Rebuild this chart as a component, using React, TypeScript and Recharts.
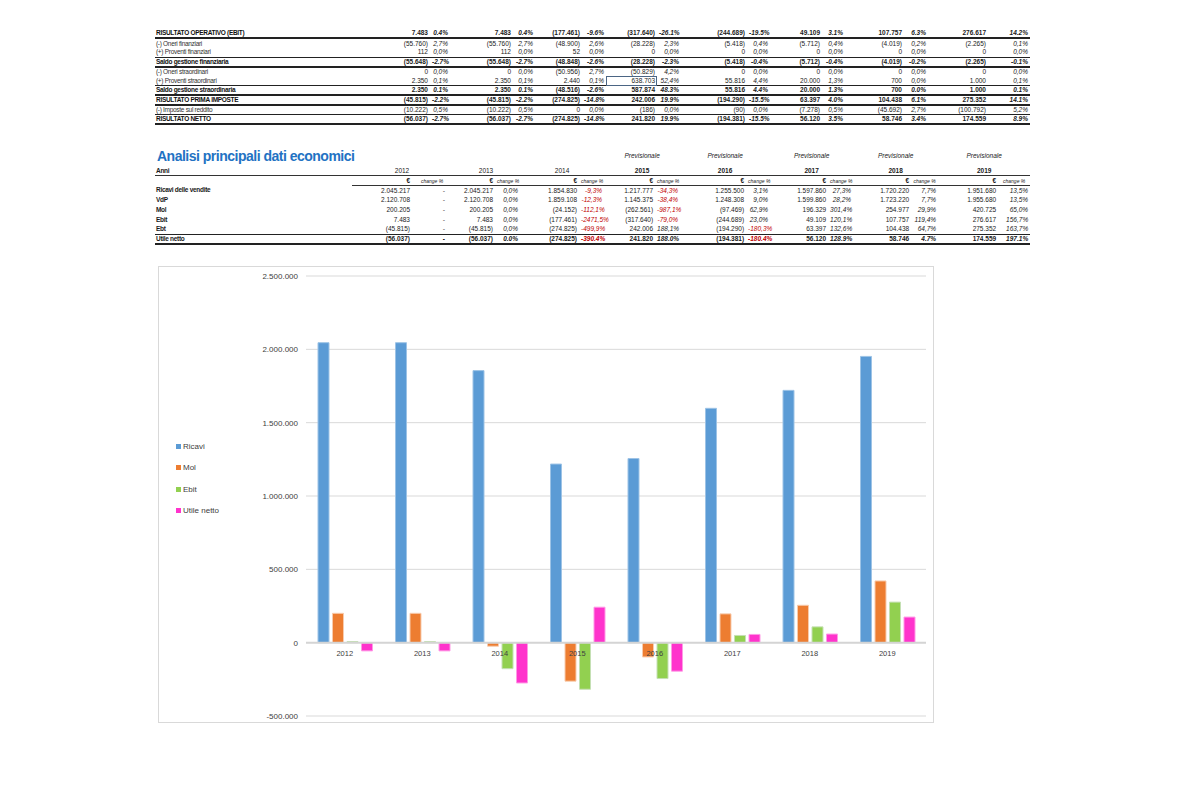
import React from 'react';
import { BarChart, Bar, XAxis, YAxis, CartesianGrid, Legend, ReferenceLine } from 'recharts';

// anni
const years = ['2012', '2013', '2014', '2015', '2016', '2017', '2018', '2019'];

// dati economici (€)
const ricavi = [2045217, 2045217, 1854830, 1217777, 1255500, 1597860, 1720220, 1951680];
const vdp = [2120708, 2120708, 1859108, 1145375, 1248308, 1599860, 1723220, 1955680];
const mol = [200205, 200205, -24152, -262561, -97469, 196329, 254977, 420725];
const ebit = [7483, 7483, -177461, -317640, -244689, 49109, 107757, 276617];
const ebt = [-45815, -45815, -274825, 242006, -194290, 63397, 104438, 275352];
const utileNetto = [-56037, -56037, -274825, 241820, -194381, 56120, 58746, 174559];

const oneriFin = [-55760, -55760, -48900, -28228, -5418, -5712, -4019, -2265];
const proventiFin = [112, 112, 52, 0, 0, 0, 0, 0];
const saldoFin = [-55648, -55648, -48848, -28228, -5418, -5712, -4019, -2265];
const oneriStraord = [0, 0, -50956, -50829, 0, 0, 0, 0];
const proventiStraord = [2350, 2350, 2440, 638703, 55816, 20000, 700, 1000];
const saldoStraord = [2350, 2350, -48516, 587874, 55816, 20000, 700, 1000];
const imposte = [-10222, -10222, 0, -186, -90, -7278, -45692, -100792];

// incidenze % (conto economico)
const ebitPct = ['0.4%', '0.4%', '-9.6%', '-26.1%', '-19.5%', '3.1%', '6.3%', '14.2%'];
const oneriFinPct = ['2,7%', '2,7%', '2,6%', '2,3%', '0,4%', '0,4%', '0,2%', '0,1%'];
const proventiFinPct = ['0,0%', '0,0%', '0,0%', '0,0%', '0,0%', '0,0%', '0,0%', '0,0%'];
const saldoFinPct = ['-2.7%', '-2.7%', '-2.6%', '-2.3%', '-0.4%', '-0.4%', '-0.2%', '-0.1%'];
const oneriStraordPct = ['0,0%', '0,0%', '2,7%', '4,2%', '0,0%', '0,0%', '0,0%', '0,0%'];
const proventiStraordPct = ['0,1%', '0,1%', '0,1%', '52,4%', '4,4%', '1,3%', '0,0%', '0,1%'];
const saldoStraordPct = ['0.1%', '0.1%', '-2.6%', '48.3%', '4.4%', '1.3%', '0.0%', '0.1%'];
const primaImpostePct = ['-2.2%', '-2.2%', '-14.8%', '19.9%', '-15.5%', '4.0%', '6.1%', '14.1%'];
const impostePct = ['0,5%', '0,5%', '0,0%', '0,0%', '0,0%', '0,5%', '2,7%', '5,2%'];
const nettoPct = ['-2.7%', '-2.7%', '-14.8%', '19.9%', '-15.5%', '3.5%', '3.4%', '8.9%'];

// variazioni % anno su anno
const ricaviChange = ['-', '0,0%', '-9,3%', '-34,3%', '3,1%', '27,3%', '7,7%', '13,5%'];
const vdpChange = ['-', '0,0%', '-12,3%', '-38,4%', '9,0%', '28,2%', '7,7%', '13,5%'];
const molChange = ['-', '0,0%', '-112,1%', '-987,1%', '62,9%', '301,4%', '29,9%', '65,0%'];
const ebitChange = ['-', '0,0%', '-2471,5%', '-79,0%', '23,0%', '120,1%', '119,4%', '156,7%'];
const ebtChange = ['-', '0,0%', '-499,9%', '188,1%', '-180,3%', '132,6%', '64,7%', '163,7%'];
const utileChange = ['-', '0.0%', '-390.4%', '188.0%', '-180.4%', '128.9%', '4.7%', '197.1%'];

const forecast = [false, false, false, true, true, true, true, true];
const seriesNames = ['Ricavi', 'Mol', 'Ebit', 'Utile netto'];

const TABLE_FONT = '"Liberation Sans", Arial, sans-serif';
const CHART_FONT = '"Liberation Sans", Arial, sans-serif';
const LABEL_LIFT = 73;

const fmt = (n: number) => {
  const s = Math.abs(n).toString().replace(/\B(?=(\d{3})+(?!\d))/g, '.');
  return n < 0 ? `(${s})` : s;
};
const axisFmt = (n: number) => (n < 0 ? '-' : '') + Math.abs(n).toString().replace(/\B(?=(\d{3})+(?!\d))/g, '.');

type Row = { label: string; values: number[]; pct: string[]; bold?: boolean; lineTop?: boolean; thick?: boolean };

const topRows: Row[] = [
  { label: 'RISULTATO OPERATIVO (EBIT)', values: ebit, pct: ebitPct, bold: true, thick: true },
  { label: '(-) Oneri finanziari', values: oneriFin, pct: oneriFinPct },
  { label: '(+) Proventi finanziari', values: proventiFin, pct: proventiFinPct },
  { label: 'Saldo gestione finanziaria', values: saldoFin, pct: saldoFinPct, bold: true, lineTop: true, thick: true },
  { label: '(-) Oneri straordinari', values: oneriStraord, pct: oneriStraordPct },
  { label: '(+) Proventi straordinari', values: proventiStraord, pct: proventiStraordPct },
  { label: 'Saldo gestione straordinaria', values: saldoStraord, pct: saldoStraordPct, bold: true, lineTop: true, thick: true },
  { label: 'RISULTATO PRIMA IMPOSTE', values: ebt, pct: primaImpostePct, bold: true, lineTop: true, thick: true },
  { label: '(-) Imposte sul reddito', values: imposte, pct: impostePct },
  { label: 'RISULTATO NETTO', values: utileNetto, pct: nettoPct, bold: true, lineTop: true, thick: true },
];

const bottomRows: Row[] = [
  { label: 'Ricavi delle vendite', values: ricavi, pct: ricaviChange },
  { label: 'VdP', values: vdp, pct: vdpChange },
  { label: 'Mol', values: mol, pct: molChange },
  { label: 'Ebit', values: ebit, pct: ebitChange },
  { label: 'Ebt', values: ebt, pct: ebtChange },
  { label: 'Utile netto', values: utileNetto, pct: utileChange, bold: true, lineTop: true, thick: true },
];

const topCols = [217, 58, 20, 63, 22, 47, 24, 51, 24, 66, 23, 52, 23, 59, 24, 60, 42];
const bottomCols = [197, 60, 40, 43, 25, 59, 25, 51, 25, 66, 24, 58, 25, 58, 27, 60, 32];

const cell: React.CSSProperties = {
  padding: '0 2px',
  whiteSpace: 'nowrap',
  overflow: 'visible',
  textAlign: 'right',
  lineHeight: '8px',
};

const labelCell: React.CSSProperties = {
  ...cell,
  textAlign: 'left',
  paddingLeft: 1,
  letterSpacing: -0.3,
};

const rowBorders = (r: Row) => ({
  borderTop: r.lineTop ? '1px solid #222' : undefined,
  borderBottom: r.thick ? '2px solid #222' : undefined,
});

const TopTable = () => (
  <table
    style={{
      position: 'absolute', left: 155, top: 29, width: 875, tableLayout: 'fixed',
      borderCollapse: 'collapse', fontFamily: TABLE_FONT, fontSize: 6.5, color: '#1a1a1a',
    }}
  >
    <colgroup>{topCols.map((w, i) => <col key={i} style={{ width: w }} />)}</colgroup>
    <tbody>
      {topRows.map((r, i) => (
        <tr key={i} style={{ height: 9.45, fontWeight: r.bold ? 700 : 400 }}>
          <td style={{ ...labelCell, ...rowBorders(r), color: r.bold ? '#111' : '#333' }}>{r.label}</td>
          {r.values.map((v, j) => [
            <td
              key={`v${j}`}
              style={{
                ...cell, ...rowBorders(r),
                ...(i === 5 && j === 3 ? { outline: '1px solid #4b6584', outlineOffset: -1 } : {}),
              }}
            >
              {fmt(v)}
            </td>,
            <td key={`p${j}`} style={{ ...cell, ...rowBorders(r), fontStyle: 'italic' }}>{r.pct[j]}</td>,
          ])}
        </tr>
      ))}
    </tbody>
  </table>
);

const BottomTable = () => (
  <table
    style={{
      position: 'absolute', left: 155, top: 146, width: 875, tableLayout: 'fixed',
      borderCollapse: 'collapse', fontFamily: TABLE_FONT, fontSize: 6.5, color: '#1a1a1a',
    }}
  >
    <colgroup>{bottomCols.map((w, i) => <col key={i} style={{ width: w }} />)}</colgroup>
    <tbody>
      <tr style={{ height: 20 }}>
        <td
          colSpan={7}
          style={{
            ...cell, textAlign: 'left', paddingLeft: 2, fontSize: 14, lineHeight: '16px',
            letterSpacing: -0.5, fontWeight: 700, color: '#2272c3',
          }}
        >
          Analisi principali dati economici
        </td>
        {years.slice(3).map((y) => (
          <td key={y} colSpan={2} style={{ ...cell, textAlign: 'center', fontStyle: 'italic', color: '#222' }}>Previsionale</td>
        ))}
      </tr>
      <tr style={{ height: 9.8 }}>
        <td style={{ ...labelCell, fontWeight: 700, borderBottom: '1.5px solid #333' }}>Anni</td>
        {years.map((y, j) => (
          <td key={y} colSpan={2} style={{ ...cell, textAlign: 'center', fontWeight: forecast[j] ? 700 : 400, borderBottom: '1.5px solid #333' }}>{y}</td>
        ))}
      </tr>
      <tr style={{ height: 9.8 }}>
        <td style={cell} />
        {years.map((y) => [
          <td key={`e${y}`} style={{ ...cell, fontWeight: 700, borderBottom: '1px solid #333' }}>€</td>,
          <td key={`c${y}`} style={{ ...cell, textAlign: 'center', fontStyle: 'italic', fontSize: 5, borderBottom: '1px solid #333' }}>change %</td>,
        ])}
      </tr>
      {bottomRows.map((r, i) => (
        <tr key={i} style={{ height: 9.8, fontWeight: r.bold ? 700 : 400 }}>
          <td style={{ ...labelCell, ...rowBorders(r), fontWeight: 700 }}>{r.label}</td>
          {r.values.map((v, j) => {
            const p = r.pct[j];
            const neg = p.startsWith('-') && p.length > 1;
            return [
              <td key={`v${j}`} style={{ ...cell, ...rowBorders(r) }}>{fmt(v)}</td>,
              <td
                key={`p${j}`}
                style={{
                  ...cell, ...rowBorders(r), fontStyle: 'italic',
                  color: neg ? '#c00000' : '#1a1a1a',
                  paddingRight: p === '-' ? 7 : 2,
                }}
              >
                {p}
              </td>,
            ];
          })}
        </tr>
      ))}
    </tbody>
  </table>
);

const chartData = years.map((y, i) => ({
  year: y,
  ricavi: ricavi[i],
  mol: mol[i],
  ebit: ebit[i],
  utile: utileNetto[i],
}));

const yTicks = [-500000, 0, 500000, 1000000, 1500000, 2000000, 2500000];

const YearTick = ({ x, y, payload }: any) => (
  <text x={x} y={y - LABEL_LIFT} dy="0.71em" textAnchor="middle" fontSize={7.5} fill="#404040" fontFamily={CHART_FONT}>
    {payload.value}
  </text>
);

const LegendList = ({ payload }: any) => {
  const items = [...(payload || [])].sort(
    (a: any, b: any) => seriesNames.indexOf(a.value) - seriesNames.indexOf(b.value),
  );
  return (
    <div>
      {items.map((p: any) => (
        <div
          key={p.value}
          style={{ display: 'flex', alignItems: 'center', height: 21.3, fontSize: 8, color: '#404040', fontFamily: CHART_FONT }}
        >
          <span style={{ display: 'inline-block', width: 5, height: 5, background: p.color, marginRight: 2 }} />
          {p.value}
        </div>
      ))}
    </div>
  );
};

const EconomicChart = () => (
  <div
    style={{
      position: 'absolute', left: 158, top: 266, width: 776, height: 457,
      border: '1px solid #d9d9d9', boxSizing: 'border-box', background: '#fff',
    }}
  >
    <BarChart
      width={774}
      height={455}
      data={chartData}
      margin={{ top: 9, right: 7, bottom: 5, left: 0 }}
      barCategoryGap={12}
      barGap={3.5}
    >
      <CartesianGrid vertical={false} stroke="#d9d9d9" />
      <XAxis dataKey="year" height={1} axisLine={false} tickLine={false} tick={<YearTick />} interval={0} />
      <YAxis
        width={147}
        domain={[-500000, 2500000]}
        ticks={yTicks}
        tickFormatter={axisFmt}
        axisLine={false}
        tickLine={false}
        tick={{ fontSize: 8, fill: '#404040', fontFamily: CHART_FONT }}
      />
      <ReferenceLine y={0} stroke="#d4d4d4" strokeWidth={2} />
      <Legend
        layout="vertical"
        align="center"
        verticalAlign="middle"
        wrapperStyle={{ left: 17, top: 169, width: 90 }}
        content={<LegendList />}
      />
      <Bar dataKey="ricavi" name="Ricavi" fill="#5b9bd5" stroke="#9dc3e6" strokeWidth={1} isAnimationActive={false} />
      <Bar dataKey="mol" name="Mol" fill="#ed7d31" stroke="#f8cbad" strokeWidth={1} isAnimationActive={false} />
      <Bar dataKey="ebit" name="Ebit" fill="#92d050" stroke="#c5e0b4" strokeWidth={1} isAnimationActive={false} />
      <Bar dataKey="utile" name="Utile netto" fill="#ff33cc" stroke="#ff99e6" strokeWidth={1} isAnimationActive={false} />
    </BarChart>
  </div>
);

export default function App() {
  return (
    <div style={{ position: 'absolute', left: 0, top: 0, width: 1193, height: 800, background: '#fff' }}>
      <TopTable />
      <BottomTable />
      <EconomicChart />
    </div>
  );
}
